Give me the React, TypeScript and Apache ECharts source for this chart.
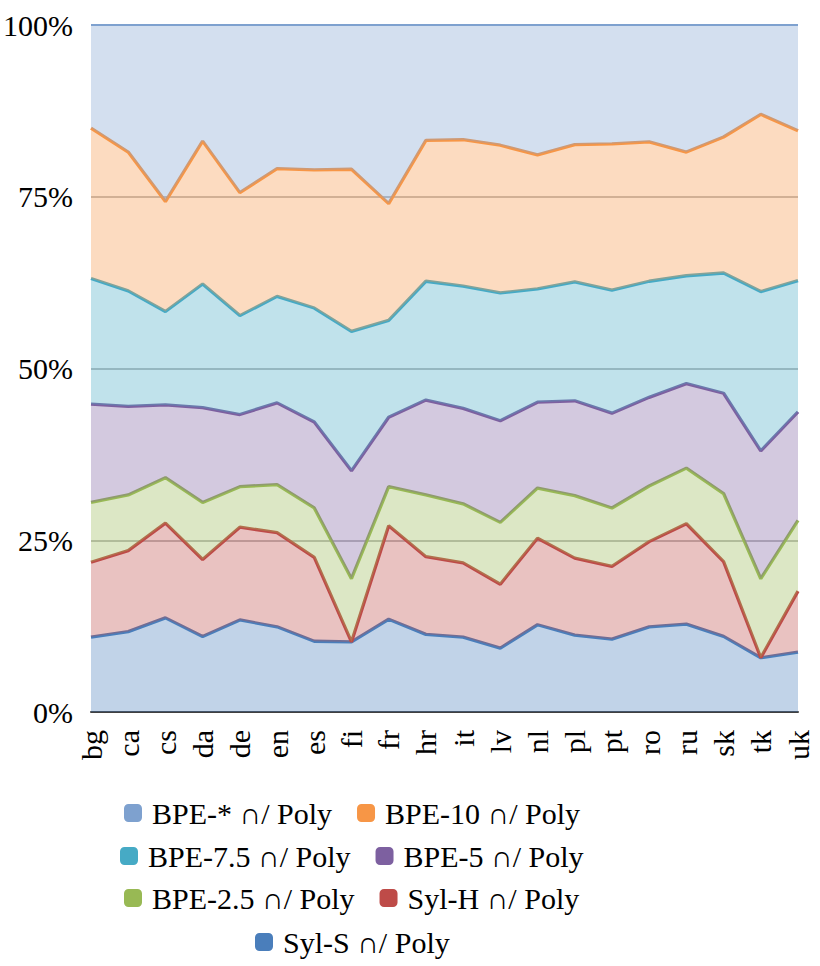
import React, { useEffect, useRef } from "react";
import * as echarts from "echarts";

const categories = ["bg", "ca", "cs", "da", "de", "en", "es", "fi", "fr", "hr", "it", "lv", "nl", "pl", "pt", "ro", "ru", "sk", "tk", "uk"];

// Per-layer shares in percent (stacked bottom → top)
const sylS = [10.9, 11.7, 13.7, 11.0, 13.4, 12.4, 10.3, 10.2, 13.5, 11.3, 10.9, 9.3, 12.7, 11.2, 10.6, 12.4, 12.8, 11.0, 7.9, 8.7];
const sylH = [10.9, 11.8, 13.8, 11.2, 13.5, 13.7, 12.2, 0.0, 13.6, 11.3, 10.8, 9.3, 12.6, 11.2, 10.6, 12.4, 14.6, 10.9, 0.0, 8.9];
const bpe25 = [8.7, 8.1, 6.6, 8.3, 5.9, 7.0, 7.2, 9.2, 5.7, 9.0, 8.6, 9.0, 7.3, 9.1, 8.5, 8.1, 8.1, 9.9, 11.5, 10.3];
const bpe5 = [14.3, 12.9, 10.6, 13.8, 10.5, 11.9, 12.5, 15.7, 10.1, 13.8, 13.9, 14.8, 12.5, 13.8, 13.8, 12.9, 12.3, 14.6, 18.6, 15.8];
const bpe75 = [18.3, 16.8, 13.6, 18.0, 14.4, 15.5, 16.6, 20.3, 14.1, 17.3, 17.8, 18.6, 16.5, 17.3, 17.9, 16.9, 15.7, 17.5, 23.2, 19.1];
const bpe10 = [21.9, 20.2, 16.0, 20.8, 17.9, 18.6, 20.1, 23.6, 17.0, 20.5, 21.3, 21.5, 19.5, 20.0, 21.3, 20.3, 18.0, 19.8, 25.8, 21.8];
const bpeStar = [15.0, 18.5, 25.7, 16.9, 24.4, 20.9, 21.1, 21.0, 26.0, 16.8, 16.7, 17.5, 18.9, 17.4, 17.3, 17.0, 18.5, 16.3, 13.0, 15.4];

const seriesNames = ["Syl-S ∩/ Poly", "Syl-H ∩/ Poly", "BPE-2.5 ∩/ Poly", "BPE-5 ∩/ Poly", "BPE-7.5 ∩/ Poly", "BPE-10 ∩/ Poly", "BPE-* ∩/ Poly"];
const seriesData = [sylS, sylH, bpe25, bpe5, bpe75, bpe10, bpeStar];
const yTicks = [0, 25, 50, 75, 100];

const colors = ["#4a7ebb", "#be4b48", "#98b954", "#7d60a0", "#46aac5", "#f79646", "#7ea1cf"];

const legendRows = [
  ["BPE-* ∩/ Poly", "BPE-10 ∩/ Poly"],
  ["BPE-7.5 ∩/ Poly", "BPE-5 ∩/ Poly"],
  ["BPE-2.5 ∩/ Poly", "Syl-H ∩/ Poly"],
  ["Syl-S ∩/ Poly"],
];

const FONT = '"Liberation Serif", "DejaVu Serif", serif';
const FS = 30;

export default function App() {
  const ref = useRef<HTMLDivElement>(null);

  useEffect(() => {
    if (!ref.current) return;
    const chart = echarts.init(ref.current, undefined, { renderer: "svg" });
    const rowTops = [798, 841, 883, 927];
    const legendCenter = 352;
    const iconW = 18;
    const iconGap = 10;
    const itemGap = 25;
    const canvas = document.createElement("canvas");
    const ctx = canvas.getContext("2d") as CanvasRenderingContext2D;
    ctx.font = FS + "px " + FONT;
    const rowWidth = (row: string[]) =>
      row.reduce((s, n) => s + iconW + iconGap + ctx.measureText(n).width, 0) + itemGap * (row.length - 1);

    const option: any = {
      animation: false,
      backgroundColor: "#ffffff",
      grid: { left: 91, right: 22, top: 25, bottom: 254, containLabel: false },
      xAxis: {
        type: "category",
        data: categories,
        boundaryGap: false,
        axisLine: { show: true, lineStyle: { color: "#404040", width: 2 } },
        axisTick: { show: false },
        axisLabel: {
          rotate: 90,
          margin: 18,
          color: "#000",
          fontFamily: FONT,
          fontSize: 30,
          interval: 0,
        },
        splitLine: { show: false },
      },
      yAxis: {
        type: "value",
        min: 0,
        max: 100,
        interval: 25,
        axisLine: { show: false },
        axisTick: { show: false },
        axisLabel: {
          margin: 18,
          color: "#000",
          fontFamily: FONT,
          fontSize: 30,
          formatter: (v: number) => (yTicks.indexOf(v) >= 0 ? v + "%" : ""),
        },
        splitLine: { show: true, lineStyle: { color: "#a8a8a8", width: 1.5 } },
      },
      legend: legendRows.map((row, i) => ({
        show: true,
        orient: "horizontal",
        left: Math.round(legendCenter - rowWidth(row) / 2),
        top: rowTops[i],
        padding: 0,
        itemWidth: iconW,
        itemHeight: 18,
        itemGap: itemGap,
        icon: "roundRect",
        selectedMode: false,
        textStyle: { fontFamily: FONT, fontSize: FS, color: "#000", lineHeight: 30, padding: [0, 0, 0, iconGap - 5] },
        data: row.map((n) => ({ name: n, itemStyle: { color: colors[seriesNames.indexOf(n)] } })),
      })),
      series: seriesNames.map((name, i) => ({
        name,
        type: "line",
        stack: "total",
        data: seriesData[i],
        symbol: "none",
        showSymbol: false,
        itemStyle: { color: colors[i] },
        lineStyle: { color: colors[i], width: i === 6 ? 2 : 3.3 },
        areaStyle: { color: colors[i], opacity: 0.34 },
        z: 2 + i,
      })),
    };
    chart.setOption(option);
    return () => chart.dispose();
  }, []);

  return <div ref={ref} style={{ position: "fixed", left: 0, top: 0, width: 820, height: 966 }} />;
}
